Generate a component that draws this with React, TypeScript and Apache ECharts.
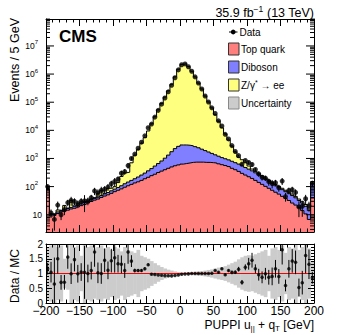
import React, { useEffect, useRef } from "react";
import * as echarts from "echarts";

// ---------------- data ----------------
const BIN_LOW = -200;
const BIN_WIDTH = 5;

const SERIES_NAMES = ["Data", "Top quark", "Diboson", "Z/γ* → ee", "Uncertainty"];

const TOP_QUARK = [
  76, 9, 9.5, 11, 12.5, 13.5, 14.5, 16, 17, 19,
  21, 23, 26, 29.5, 33, 36, 41, 46, 51, 57.5,
  66, 74, 83, 95, 107, 120, 135, 148, 166, 190,
  214, 245, 275, 316, 355, 398, 447, 500, 550, 590,
  630, 660, 690, 725, 740, 740, 740, 725, 725, 708,
  690, 645, 600, 560, 515, 447, 398, 347, 295, 257,
  224, 195, 166, 141, 120, 102, 87, 74, 63, 54,
  45, 38, 32, 26, 22, 18, 14, 10.7, 6.8, 40,
];

const DIBOSON = [
  5, 1, 0.8, 1.6, 1.5, 1.5, 2.1, 2.2, 3, 2.9,
  3.5, 4, 4, 4.5, 5, 6.7, 7, 9, 10.7, 13.3,
  15.3, 19, 24, 31, 38, 46, 55, 71, 91, 112,
  149, 191, 262, 344, 458, 625, 871, 1238, 1689, 2102,
  2390, 2360, 2261, 2093, 1890, 1660, 1398, 1180, 973, 806,
  659, 557, 472, 417, 376, 347, 310, 284, 255, 222,
  193, 168, 143, 122, 99, 80, 68, 55, 44, 37,
  33, 28, 24, 22, 18, 14, 12, 9.3, 7.2, 92,
];

const ZEE = [
  5, 1, 0.3, 2.1, 0.3, 6.4, 0.7, 14, 0.4, 2.8,
  4.1, 2.8, 1, 2.4, 2.5, 15, 25, 1, 25, 17,
  18, 46, 122, 183, 179, 534, 1110, 1881, 3193, 5198,
  9137, 16600, 29900, 53300, 89700, 151000, 253000, 431000, 795000, 1480000,
  2200000, 2330000, 1840000, 1260000, 791000, 477000, 293000, 164000, 100000, 61000,
  34700, 19800, 11200, 6520, 3610, 1960, 992, 469, 350, 221,
  123, 57, 41, 32, 26, 20, 17, 14, 12, 10,
  9, 8, 7, 6, 5, 4, 3, 3, 2, 20,
];

const DATA = [
  100, 11.5, 6.8, 22, 10, 15, 27, 32, 30, 24.5,
  30, 31, 31, 40, 70, 59, 73, 81, 96, 126,
  152, 185, 300, 340, 560, 994, 1430, 2310, 3795, 6380,
  12350, 16660, 29500, 51300, 85100, 141000, 234000, 398000, 741000, 1410000,
  2140000, 2290000, 1820000, 1260000, 794000, 479000, 295000, 166000, 102000, 63100,
  39600, 21840, 14270, 7200, 4950, 2860, 1770, 1260, 630, 847,
  718, 609, 406, 283, 213, 200, 150, 129, 138, 91,
  157, 44, 73, 77, 62, 19, 20, 37, 21, 130,
];

const RATIO_ERR = [
  0.2, 0.35, 0.9, 0.5, 0.25, 0.25, 0.4, 0.35, 0.4, 0.3,
  0.3, 0.9, 0.3, 0.3, 0.5, 0.35, 0.35, 0.4, 0.3, 0.4,
  0.5, 0.3, 0.3, 0.25, 0.4, 0.2, 0.06, 0.05, 0.05, 0.05,
  0.04, 0.02, 0.015, 0.01, 0.01, 0.01, 0.01, 0.01, 0.01, 0.01,
  0.01, 0.01, 0.01, 0.01, 0.01, 0.01, 0.01, 0.01, 0.01, 0.015,
  0.02, 0.025, 0.03, 0.03, 0.04, 0.05, 0.06, 0.08, 0.08, 0.1,
  0.2, 0.25, 0.15, 0.2, 0.2, 0.2, 0.25, 0.3, 0.3, 0.25,
  0.5, 0.2, 0.3, 0.4, 0.4, 0.3, 0.4, 0.6, 0.5, 0.2,
];

// relative MC uncertainty (half width of the grey band in the ratio panel)
const MC_UNC = [
  0.9, 0.95, 1.0, 0.9, 0.95, 0.5, 0.55, 1.0, 0.9, 0.95,
  0.6, 1.0, 0.9, 0.95, 0.85, 0.9, 0.95, 0.85, 0.9, 0.8,
  0.9, 0.85, 0.75, 0.9, 0.8, 0.75, 0.7, 0.8, 0.6, 0.55,
  0.5, 0.42, 0.35, 0.28, 0.22, 0.17, 0.13, 0.1, 0.07, 0.05,
  0.04, 0.04, 0.04, 0.05, 0.06, 0.07, 0.08, 0.1, 0.12, 0.14,
  0.17, 0.2, 0.22, 0.25, 0.3, 0.35, 0.4, 0.48, 0.55, 0.6,
  0.62, 0.6, 0.65, 0.7, 0.75, 0.8, 0.6, 0.85, 0.9, 0.8,
  0.95, 0.7, 0.9, 0.85, 1.0, 0.8, 0.9, 1.0, 0.85, 0.4,
];

const Y_MIN = 2.43;
const Y_MAX = 9.08e7;
const DECADES = [0, 1, 2, 3, 4, 5, 6, 7];
const MINOR_MULT = [2, 3, 4, 5, 6, 7, 8, 9];

// ---------------- helpers ----------------
const FONT = "'Liberation Sans', Arial, Helvetica, sans-serif";
const N = DATA.length;
const X_MIN = BIN_LOW;
const X_MAX = BIN_LOW + N * BIN_WIDTH;
const centers = DATA.map((_, i) => BIN_LOW + (i + 0.5) * BIN_WIDTH);

function stepData(vals: number[]) {
  const pts = vals.map((v, i) => [BIN_LOW + i * BIN_WIDTH, v]);
  pts.push([X_MAX, vals[vals.length - 1]]);
  return pts;
}

// cumulative stack (Top quark at the bottom, then Diboson, then Z/γ*)
const cumTop = TOP_QUARK.slice();
const cumDib = TOP_QUARK.map((t, i) => t + DIBOSON[i]);
const cumZ = cumDib.map((t, i) => t + ZEE[i]);
const ratio = DATA.map((d, i) => d / cumZ[i]);

const yTicks: number[][] = [];
DECADES.forEach((d) => {
  const base = Math.pow(10, d);
  if (base >= Y_MIN && base <= Y_MAX) yTicks.push([X_MIN, base, 1]);
  MINOR_MULT.forEach((m) => {
    const v = m * base;
    if (v >= Y_MIN && v <= Y_MAX) yTicks.push([X_MIN, v, 0]);
  });
});

function mkX(grid: number, position: string, labels: boolean) {
  return {
    type: "value",
    gridIndex: grid,
    position,
    min: X_MIN,
    max: X_MAX,
    interval: 50,
    axisLine: { show: true, onZero: false, lineStyle: { color: "#000", width: 1 } },
    axisTick: { show: true, inside: true, length: 7, lineStyle: { color: "#000", width: 1 } },
    minorTick: { show: true, splitNumber: 5, length: 3.5, lineStyle: { color: "#000", width: 1 } },
    splitLine: { show: false },
    axisLabel: labels
      ? {
          show: true,
          fontSize: 12,
          fontFamily: FONT,
          color: "#000",
          margin: 2,
          formatter: (v: number) => String(v).replace("-", "\u2212"),
        }
      : { show: false },
    z: 10,
  };
}

function mkLogY(position: string, labels: boolean) {
  return {
    type: "log",
    logBase: 10,
    gridIndex: 0,
    position,
    min: Y_MIN,
    max: Y_MAX,
    splitNumber: 8,
    axisLine: { show: true, onZero: false, lineStyle: { color: "#000", width: 1 } },
    axisTick: { show: false },
    minorTick: { show: false },
    splitLine: { show: false },
    axisLabel: labels
      ? {
          show: true,
          margin: 4,
          color: "#000",
          fontFamily: FONT,
          formatter: (v: number) => {
            const e = Math.log10(v);
            const r = Math.round(e);
            if (Math.abs(e - r) > 1e-6) return "";
            if (r === 1) return "{b|10}";
            return "{b|10}{s|" + r + "}";
          },
          rich: {
            b: { fontSize: 8.5, fontFamily: FONT, color: "#000" },
            s: { fontSize: 6, fontFamily: FONT, color: "#000", padding: [0, 4, 7, 0] },
          },
        }
      : { show: false },
    z: 10,
  };
}

function mkRatioY(position: string, labels: boolean) {
  return {
    type: "value",
    gridIndex: 1,
    position,
    min: 0,
    max: 2,
    interval: 0.5,
    axisLine: { show: true, onZero: false, lineStyle: { color: "#000", width: 1 } },
    axisTick: { show: true, inside: true, length: 6, lineStyle: { color: "#000", width: 1 } },
    minorTick: { show: true, splitNumber: 5, length: 3, lineStyle: { color: "#000", width: 1 } },
    splitLine: { show: false },
    axisLabel: labels
      ? { show: true, fontSize: 10, fontFamily: FONT, color: "#000", margin: 3 }
      : { show: false },
    z: 10,
  };
}

function histSeries(name: string, vals: number[], color: string, z: number) {
  return {
    name,
    type: "line",
    xAxisIndex: 0,
    yAxisIndex: 0,
    step: "end",
    showSymbol: false,
    symbol: "none",
    data: stepData(vals),
    lineStyle: { color: "#000", width: 1 },
    itemStyle: { color },
    areaStyle: { color, opacity: 1, origin: "start" },
    clip: true,
    z,
  };
}

const legendRows = [
  { name: SERIES_NAMES[1], fill: "#ff7f7f", stroke: "#333", cy: 49 },
  { name: SERIES_NAMES[2], fill: "#7f7fff", stroke: "#333", cy: 67 },
  { name: "Z/γ{s|*} → ee", fill: "#ffff7f", stroke: "#333", cy: 85 },
  { name: SERIES_NAMES[4], fill: "#cccccc", stroke: "#888", cy: 103 },
];

const option: any = {
  animation: false,
  grid: [
    { left: 46, top: 19, width: 268, height: 213 },
    { left: 46, top: 244, width: 268, height: 59 },
  ],
  xAxis: [mkX(0, "bottom", false), mkX(0, "top", false), mkX(1, "bottom", true), mkX(1, "top", false)],
  yAxis: [mkLogY("left", true), mkLogY("right", false), mkRatioY("left", true), mkRatioY("right", false)],
  series: [
    histSeries(SERIES_NAMES[3], cumZ, "#ffff7f", 2),
    histSeries(SERIES_NAMES[2], cumDib, "#7f7fff", 3),
    histSeries(SERIES_NAMES[1], cumTop, "#ff7f7f", 4),
    {
      type: "custom",
      name: "ytick",
      xAxisIndex: 0,
      yAxisIndex: 0,
      data: yTicks,
      encode: { x: 0, y: 1 },
      z: 8,
      renderItem: (params: any, api: any) => {
        const v = api.value(1);
        const len = api.value(2) ? 8 : 4;
        const pL = api.coord([X_MIN, v]);
        const pR = api.coord([X_MAX, v]);
        return {
          type: "group",
          children: [
            { type: "line", shape: { x1: pL[0], y1: pL[1], x2: pL[0] + len, y2: pL[1] }, style: { stroke: "#000", lineWidth: 1 } },
            { type: "line", shape: { x1: pR[0], y1: pR[1], x2: pR[0] - len, y2: pR[1] }, style: { stroke: "#000", lineWidth: 1 } },
          ],
        };
      },
    },
    {
      type: "custom",
      name: "dataErr",
      xAxisIndex: 0,
      yAxisIndex: 0,
      clip: true,
      z: 6,
      data: DATA.map((d, i) => [centers[i], d, Math.min(0.6, RATIO_ERR[i] / ratio[i])]),
      encode: { x: 0, y: 1 },
      renderItem: (params: any, api: any) => {
        const x = api.value(0);
        const d = api.value(1);
        const rel = api.value(2);
        const lo = Math.max(Y_MIN, d * (1 - rel));
        const hi = d * (1 + rel);
        const p1 = api.coord([x, lo]);
        const p2 = api.coord([x, hi]);
        return { type: "line", shape: { x1: p1[0], y1: p1[1], x2: p2[0], y2: p2[1] }, style: { stroke: "#000", lineWidth: 1 } };
      },
    },
    {
      name: SERIES_NAMES[0],
      type: "scatter",
      xAxisIndex: 0,
      yAxisIndex: 0,
      symbol: "circle",
      symbolSize: 5,
      itemStyle: { color: "#000" },
      data: DATA.map((d, i) => [centers[i], d]),
      z: 7,
    },
    // ratio panel
    {
      type: "custom",
      name: "band",
      xAxisIndex: 2,
      yAxisIndex: 2,
      clip: true,
      z: 2,
      data: MC_UNC.map((u, i) => [centers[i], u]),
      encode: { x: 0, y: 1 },
      renderItem: (params: any, api: any) => {
        const x = api.value(0);
        const u = api.value(1);
        const p1 = api.coord([x - BIN_WIDTH / 2, Math.min(2, 1 + u)]);
        const p2 = api.coord([x + BIN_WIDTH / 2, Math.max(0, 1 - u)]);
        return {
          type: "rect",
          shape: { x: p1[0], y: p1[1], width: p2[0] - p1[0] + 0.4, height: p2[1] - p1[1] },
          style: { fill: "#cccccc" },
        };
      },
    },
    {
      type: "line",
      name: "unity",
      xAxisIndex: 2,
      yAxisIndex: 2,
      symbol: "none",
      data: [[X_MIN, 1], [X_MAX, 1]],
      lineStyle: { color: "#ff0000", width: 1 },
      z: 3,
    },
    {
      type: "custom",
      name: "ratioErr",
      xAxisIndex: 2,
      yAxisIndex: 2,
      clip: true,
      z: 4,
      data: ratio.map((r, i) => [centers[i], r, RATIO_ERR[i]]),
      encode: { x: 0, y: 1 },
      renderItem: (params: any, api: any) => {
        const x = api.value(0);
        const r = api.value(1);
        const e = api.value(2);
        const p1 = api.coord([x, r - e]);
        const p2 = api.coord([x, r + e]);
        return { type: "line", shape: { x1: p1[0], y1: p1[1], x2: p2[0], y2: p2[1] }, style: { stroke: "#000", lineWidth: 1 } };
      },
    },
    {
      type: "scatter",
      name: "ratio",
      xAxisIndex: 2,
      yAxisIndex: 2,
      symbol: "circle",
      symbolSize: 3.5,
      itemStyle: { color: "#000" },
      data: ratio.map((r, i) => [centers[i], r]),
      z: 5,
    },
  ],
  graphic: [
    {
      type: "text",
      x: 59,
      y: 36,
      z: 20,
      style: { text: "CMS", fontSize: 17, fontWeight: "bold", fontFamily: FONT, fill: "#000", align: "left", verticalAlign: "middle" },
    },
    {
      type: "text",
      x: 314,
      y: 13,
      style: {
        text: "35.9 fb{s|\u22121} (13 TeV)",
        fontSize: 12.5,
        fontFamily: FONT,
        fill: "#000",
        align: "right",
        verticalAlign: "middle",
        rich: { s: { fontSize: 8.5, fontFamily: FONT, fill: "#000", padding: [0, 0, 8, 0] } },
      },
    },
    {
      type: "text",
      x: 15,
      y: 18,
      rotation: Math.PI / 2,
      style: { text: "Events / 5 GeV", fontSize: 12.5, fontFamily: FONT, fill: "#000", align: "right", verticalAlign: "middle" },
    },
    {
      type: "text",
      x: 15,
      y: 276,
      rotation: Math.PI / 2,
      style: { text: "Data / MC", fontSize: 12, fontFamily: FONT, fill: "#000", align: "center", verticalAlign: "middle" },
    },
    {
      type: "text",
      x: 314,
      y: 325,
      style: {
        text: "PUPPI u{sub|||} + q{sub|T} [GeV]",
        fontSize: 12,
        fontFamily: FONT,
        fill: "#000",
        align: "right",
        verticalAlign: "middle",
        rich: { sub: { fontSize: 8, fontFamily: FONT, fill: "#000", padding: [7, 0, 0, 0] } },
      },
    },
    // legend: data
    { type: "line", z: 20, shape: { x1: 229, y1: 32, x2: 237.5, y2: 32 }, style: { stroke: "#000", lineWidth: 1 } },
    { type: "circle", z: 20, shape: { cx: 233.2, cy: 32, r: 2.4 }, style: { fill: "#000" } },
    {
      type: "text",
      x: 239.5,
      y: 32,
      z: 20,
      style: { text: SERIES_NAMES[0], fontSize: 10, fontFamily: FONT, fill: "#000", align: "left", verticalAlign: "middle" },
    },
    ...legendRows.flatMap((row) => [
      {
        type: "rect",
        z: 20,
        shape: { x: 228.5, y: row.cy - 6, width: 10.5, height: 12 },
        style: { fill: row.fill, stroke: row.stroke, lineWidth: 1 },
      },
      {
        type: "text",
        x: 241,
        y: row.cy,
        z: 20,
        style: {
          text: row.name,
          fontSize: 10,
          fontFamily: FONT,
          fill: "#000",
          align: "left",
          verticalAlign: "middle",
          rich: { s: { fontSize: 7, fontFamily: FONT, fill: "#000", padding: [0, 0, 6, 0] } },
        },
      },
    ]),
  ],
};

export default function App() {
  const ref = useRef<HTMLDivElement>(null);
  useEffect(() => {
    document.body.style.margin = "0";
    const chart = echarts.init(ref.current as HTMLDivElement, null, { renderer: "svg" });
    chart.setOption(option);
    return () => chart.dispose();
  }, []);
  return <div ref={ref} style={{ width: 349, height: 335 }} />;
}
